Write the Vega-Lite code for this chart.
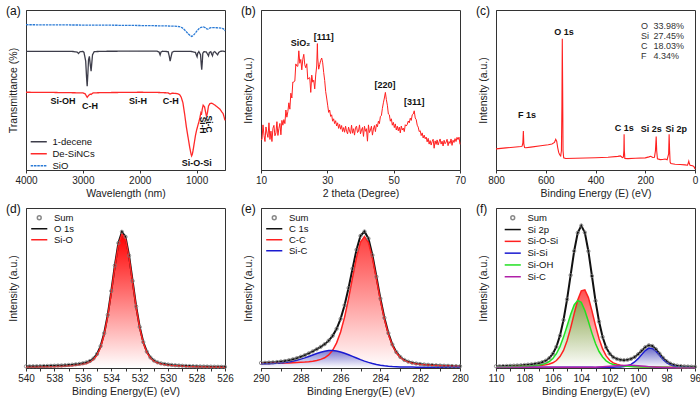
{
"$schema":"https://vega.github.io/schema/vega-lite/v6.json",
"padding":{"left":5,"top":4,"right":2,"bottom":0},
"columns":3,
"spacing":{"row":3,"column":6},
"resolve":{"scale":{"color":"independent","shape":"independent","strokeDash":"independent"}},
"config":{
 "font":"Liberation Sans",
 "view":{"stroke":"#333","strokeWidth":1},
 "axis":{"grid":false,"domainColor":"#333","tickColor":"#333","labelColor":"#222","titleColor":"#222","labelFontSize":10,"titleFontSize":10.5,"titleFontWeight":"normal","tickSize":3,"labelPadding":2,"labelFlush":false,"labelOverlap":false},
 "axisX":{"titlePadding":3},
 "axisY":{"labels":false,"ticks":false,"titlePadding":8},
 "title":{"fontSize":12,"fontWeight":"normal","anchor":"start","frame":"bounds","offset":-8,"dx":-2,"color":"#111"}
},
"datasets":{
"ftir":[
{"x":4000,"y":90.8,"s":"SiO"},{"x":3500,"y":90.7,"s":"SiO"},{"x":3000,"y":90.6,"s":"SiO"},{"x":2500,"y":90.5,"s":"SiO"},{"x":2000,"y":90.3,"s":"SiO"},{"x":1600,"y":90.1,"s":"SiO"},{"x":1400,"y":89.9,"s":"SiO"},{"x":1300,"y":89.6,"s":"SiO"},{"x":1250,"y":88.8,"s":"SiO"},{"x":1200,"y":87.2,"s":"SiO"},{"x":1150,"y":85.2,"s":"SiO"},{"x":1110,"y":83.9,"s":"SiO"},{"x":1085,"y":83.5,"s":"SiO"},{"x":1060,"y":84,"s":"SiO"},{"x":1030,"y":85.2,"s":"SiO"},{"x":1000,"y":86.6,"s":"SiO"},{"x":960,"y":88.3,"s":"SiO"},{"x":920,"y":89.2,"s":"SiO"},{"x":880,"y":89.4,"s":"SiO"},{"x":850,"y":89,"s":"SiO"},{"x":820,"y":88.2,"s":"SiO"},{"x":800,"y":88.1,"s":"SiO"},{"x":780,"y":88.5,"s":"SiO"},{"x":750,"y":89,"s":"SiO"},{"x":700,"y":89,"s":"SiO"},{"x":650,"y":88.9,"s":"SiO"},{"x":560,"y":88.7,"s":"SiO"},{"x":525,"y":88.2,"s":"SiO"},{"x":510,"y":87.5,"s":"SiO"},{"x":500,"y":86.9,"s":"SiO"},
{"x":4000,"y":74.2,"s":"1-decene"},{"x":3200,"y":74.2,"s":"1-decene"},{"x":3100,"y":73.7,"s":"1-decene"},{"x":3077,"y":72.8,"s":"1-decene"},{"x":3050,"y":73.9,"s":"1-decene"},{"x":3000,"y":74.1,"s":"1-decene"},{"x":2980,"y":73.5,"s":"1-decene"},{"x":2950,"y":68,"s":"1-decene"},{"x":2935,"y":58,"s":"1-decene"},{"x":2924,"y":52.3,"s":"1-decene"},{"x":2912,"y":60,"s":"1-decene"},{"x":2900,"y":69,"s":"1-decene"},{"x":2885,"y":71,"s":"1-decene"},{"x":2870,"y":66,"s":"1-decene"},{"x":2855,"y":61.7,"s":"1-decene"},{"x":2845,"y":66,"s":"1-decene"},{"x":2830,"y":72,"s":"1-decene"},{"x":2800,"y":74,"s":"1-decene"},{"x":2600,"y":74.2,"s":"1-decene"},{"x":2000,"y":74.3,"s":"1-decene"},{"x":1700,"y":74.3,"s":"1-decene"},{"x":1660,"y":73.8,"s":"1-decene"},{"x":1641,"y":71.9,"s":"1-decene"},{"x":1625,"y":73.8,"s":"1-decene"},{"x":1600,"y":74.2,"s":"1-decene"},{"x":1500,"y":74,"s":"1-decene"},{"x":1480,"y":71,"s":"1-decene"},{"x":1465,"y":68,"s":"1-decene"},{"x":1450,"y":70.5,"s":"1-decene"},{"x":1430,"y":73.6,"s":"1-decene"},{"x":1400,"y":74.1,"s":"1-decene"},{"x":1100,"y":74.1,"s":"1-decene"},{"x":1020,"y":73.5,"s":"1-decene"},{"x":1000,"y":71.5,"s":"1-decene"},{"x":991,"y":70.8,"s":"1-decene"},{"x":980,"y":73,"s":"1-decene"},{"x":960,"y":74,"s":"1-decene"},{"x":930,"y":72,"s":"1-decene"},{"x":918,"y":66,"s":"1-decene"},{"x":909,"y":62.7,"s":"1-decene"},{"x":900,"y":67,"s":"1-decene"},{"x":890,"y":73,"s":"1-decene"},{"x":870,"y":74,"s":"1-decene"},{"x":830,"y":73.8,"s":"1-decene"},{"x":800,"y":72,"s":"1-decene"},{"x":790,"y":71.3,"s":"1-decene"},{"x":775,"y":73.5,"s":"1-decene"},{"x":750,"y":74,"s":"1-decene"},{"x":735,"y":72.5,"s":"1-decene"},{"x":720,"y":71.4,"s":"1-decene"},{"x":705,"y":73.5,"s":"1-decene"},{"x":680,"y":74,"s":"1-decene"},{"x":650,"y":72.8,"s":"1-decene"},{"x":630,"y":72,"s":"1-decene"},{"x":610,"y":73.5,"s":"1-decene"},{"x":580,"y":74.2,"s":"1-decene"},{"x":540,"y":74.3,"s":"1-decene"},{"x":500,"y":74,"s":"1-decene"},
{"x":4000,"y":48.6,"s":"De-SiNCs"},{"x":3600,"y":48.5,"s":"De-SiNCs"},{"x":3200,"y":48.3,"s":"De-SiNCs"},{"x":3000,"y":48.2,"s":"De-SiNCs"},{"x":2960,"y":47.6,"s":"De-SiNCs"},{"x":2924,"y":45.4,"s":"De-SiNCs"},{"x":2900,"y":46.6,"s":"De-SiNCs"},{"x":2870,"y":47.5,"s":"De-SiNCs"},{"x":2855,"y":47.2,"s":"De-SiNCs"},{"x":2820,"y":48.2,"s":"De-SiNCs"},{"x":2600,"y":48.4,"s":"De-SiNCs"},{"x":2200,"y":48.5,"s":"De-SiNCs"},{"x":2000,"y":48.6,"s":"De-SiNCs"},{"x":1700,"y":48.5,"s":"De-SiNCs"},{"x":1500,"y":48.2,"s":"De-SiNCs"},{"x":1465,"y":47.5,"s":"De-SiNCs"},{"x":1430,"y":48,"s":"De-SiNCs"},{"x":1350,"y":47.8,"s":"De-SiNCs"},{"x":1300,"y":47.2,"s":"De-SiNCs"},{"x":1270,"y":45.5,"s":"De-SiNCs"},{"x":1240,"y":42,"s":"De-SiNCs"},{"x":1210,"y":35,"s":"De-SiNCs"},{"x":1180,"y":27,"s":"De-SiNCs"},{"x":1150,"y":20.5,"s":"De-SiNCs"},{"x":1120,"y":14,"s":"De-SiNCs"},{"x":1100,"y":10.5,"s":"De-SiNCs"},{"x":1088,"y":8.8,"s":"De-SiNCs"},{"x":1075,"y":9.8,"s":"De-SiNCs"},{"x":1060,"y":12.5,"s":"De-SiNCs"},{"x":1040,"y":17,"s":"De-SiNCs"},{"x":1020,"y":21.5,"s":"De-SiNCs"},{"x":1000,"y":24.8,"s":"De-SiNCs"},{"x":980,"y":27.5,"s":"De-SiNCs"},{"x":960,"y":30,"s":"De-SiNCs"},{"x":940,"y":33,"s":"De-SiNCs"},{"x":925,"y":35.5,"s":"De-SiNCs"},{"x":915,"y":34.5,"s":"De-SiNCs"},{"x":900,"y":38,"s":"De-SiNCs"},{"x":884,"y":40.5,"s":"De-SiNCs"},{"x":860,"y":39.5,"s":"De-SiNCs"},{"x":840,"y":36,"s":"De-SiNCs"},{"x":825,"y":33.5,"s":"De-SiNCs"},{"x":810,"y":35.5,"s":"De-SiNCs"},{"x":790,"y":40,"s":"De-SiNCs"},{"x":766,"y":41.5,"s":"De-SiNCs"},{"x":740,"y":41.8,"s":"De-SiNCs"},{"x":713,"y":41.4,"s":"De-SiNCs"},{"x":680,"y":40.6,"s":"De-SiNCs"},{"x":640,"y":39.5,"s":"De-SiNCs"},{"x":591,"y":38.1,"s":"De-SiNCs"},{"x":560,"y":36.5,"s":"De-SiNCs"},{"x":532,"y":35.2,"s":"De-SiNCs"},{"x":515,"y":33,"s":"De-SiNCs"},{"x":500,"y":31,"s":"De-SiNCs"}
],
"ftirLab":[{"x":3350,"y":43,"t":"Si-OH"},{"x":2875,"y":40,"t":"C-H"},{"x":2032,"y":43,"t":"Si-H"},{"x":1452,"y":43,"t":"C-H"},{"x":995,"y":4.4,"t":"Si-O-Si"}],
"ftirRot":[{"x":890,"y":28,"t":"Si-H"},{"x":784,"y":28.7,"t":"Si-C"}],
"xrd":[
{"x":10,"y":19},{"x":10.3,"y":19.1},{"x":10.6,"y":28.2},{"x":10.9,"y":21.7},{"x":11.2,"y":17.8},{"x":11.5,"y":26.9},{"x":11.8,"y":23},{"x":12.1,"y":20.4},{"x":12.4,"y":29.5},{"x":12.7,"y":19.1},{"x":13,"y":24.3},{"x":13.3,"y":17.8},{"x":13.6,"y":26.1},{"x":13.9,"y":27.9},{"x":14.2,"y":21.4},{"x":14.5,"y":23.2},{"x":14.8,"y":30.2},{"x":15.1,"y":21.6},{"x":15.4,"y":26},{"x":15.7,"y":29.1},{"x":16,"y":22},{"x":16.3,"y":31},{"x":16.6,"y":28},{"x":16.9,"y":31.5},{"x":17.2,"y":29},{"x":17.5,"y":37.5},{"x":17.8,"y":33},{"x":18.1,"y":36.5},{"x":18.4,"y":42},{"x":18.7,"y":38},{"x":19,"y":48},{"x":19.3,"y":45},{"x":19.6,"y":55},{"x":19.9,"y":55},{"x":20.2,"y":55.6},{"x":20.5,"y":66.3},{"x":20.8,"y":65},{"x":21.1,"y":64.8},{"x":21.4,"y":74.5},{"x":21.7,"y":66.7},{"x":22,"y":69.1},{"x":22.3,"y":62.6},{"x":22.6,"y":69.2},{"x":22.9,"y":72.3},{"x":23.2,"y":65.8},{"x":23.5,"y":63.9},{"x":23.8,"y":66.4},{"x":24.1,"y":56.7},{"x":24.4,"y":57.5},{"x":24.7,"y":57.7},{"x":25,"y":48.5},{"x":25.3,"y":59.3},{"x":25.6,"y":54.9},{"x":25.9,"y":56.1},{"x":26.2,"y":50.7},{"x":26.5,"y":59.4},{"x":26.8,"y":65},{"x":27,"y":79},{"x":27.1,"y":70},{"x":27.4,"y":63},{"x":27.7,"y":66},{"x":28,"y":68.5},{"x":28.3,"y":70},{"x":28.6,"y":67},{"x":28.9,"y":61},{"x":29.2,"y":56},{"x":29.5,"y":49},{"x":29.8,"y":45},{"x":30.1,"y":40.5},{"x":30.4,"y":36},{"x":30.7,"y":37.5},{"x":31,"y":33.5},{"x":31.3,"y":34.5},{"x":31.6,"y":30.5},{"x":31.9,"y":32},{"x":32.2,"y":29},{"x":32.5,"y":30.8},{"x":32.8,"y":27.5},{"x":33.1,"y":29.5},{"x":33.4,"y":26},{"x":33.7,"y":28.5},{"x":34,"y":25.5},{"x":34.3,"y":27.8},{"x":34.6,"y":24},{"x":34.9,"y":26.5},{"x":35.2,"y":23.6},{"x":35.5,"y":27.4},{"x":35.8,"y":24.2},{"x":36.1,"y":22.6},{"x":36.4,"y":26.8},{"x":36.7,"y":24.4},{"x":37,"y":22.8},{"x":37.3,"y":28},{"x":37.6,"y":23},{"x":37.9,"y":25.8},{"x":38.2,"y":21.8},{"x":38.5,"y":26.6},{"x":38.8,"y":27.4},{"x":39.1,"y":23.4},{"x":39.4,"y":24.2},{"x":39.7,"y":28.2},{"x":40,"y":22.6},{"x":40.3,"y":25},{"x":40.6,"y":26.6},{"x":40.9,"y":21},{"x":41.2,"y":27.4},{"x":41.5,"y":24.2},{"x":41.8,"y":25.8},{"x":42.1,"y":18},{"x":42.4,"y":28.2},{"x":42.7,"y":23.4},{"x":43,"y":25},{"x":43.3,"y":27.4},{"x":43.6,"y":21.8},{"x":43.9,"y":25.6},{"x":44.2,"y":27.8},{"x":44.5,"y":24},{"x":44.8,"y":28.5},{"x":45.1,"y":27},{"x":45.4,"y":30.5},{"x":45.7,"y":29},{"x":46,"y":33.5},{"x":46.3,"y":34},{"x":46.6,"y":38.5},{"x":46.9,"y":42},{"x":47.2,"y":45},{"x":47.5,"y":48.5},{"x":47.8,"y":44},{"x":48.1,"y":40.5},{"x":48.4,"y":35},{"x":48.7,"y":34.5},{"x":49,"y":30.5},{"x":49.3,"y":32},{"x":49.6,"y":28},{"x":49.9,"y":29.8},{"x":50.2,"y":26.5},{"x":50.5,"y":28.8},{"x":50.8,"y":25},{"x":51.1,"y":27.4},{"x":51.4,"y":24.5},{"x":51.7,"y":26.8},{"x":52,"y":23.2},{"x":52.3,"y":27.5},{"x":52.6,"y":25},{"x":52.9,"y":26.2},{"x":53.2,"y":24},{"x":53.5,"y":28.3},{"x":53.8,"y":27.5},{"x":54.1,"y":28.5},{"x":54.4,"y":30.6},{"x":54.7,"y":29.5},{"x":55,"y":32.4},{"x":55.3,"y":31},{"x":55.6,"y":34.5},{"x":55.9,"y":35},{"x":56.2,"y":37},{"x":56.5,"y":32.5},{"x":56.8,"y":31.5},{"x":57.1,"y":28},{"x":57.4,"y":26.8},{"x":57.7,"y":24},{"x":58,"y":24.6},{"x":58.3,"y":21.5},{"x":58.6,"y":23.2},{"x":58.9,"y":20},{"x":59.2,"y":21.8},{"x":59.5,"y":19.5},{"x":59.8,"y":20.6},{"x":60.1,"y":17.6},{"x":60.4,"y":19.8},{"x":60.7,"y":16.2},{"x":61,"y":18.4},{"x":61.3,"y":15.6},{"x":61.6,"y":17.8},{"x":61.9,"y":19.2},{"x":62.2,"y":13.6},{"x":62.5,"y":18.2},{"x":62.8,"y":16},{"x":63.1,"y":18.8},{"x":63.4,"y":15.6},{"x":63.7,"y":17.6},{"x":64,"y":19.4},{"x":64.3,"y":16.2},{"x":64.6,"y":18},{"x":64.9,"y":15},{"x":65.2,"y":18.6},{"x":65.5,"y":16.4},{"x":65.8,"y":17.4},{"x":66.1,"y":19.2},{"x":66.4,"y":15.2},{"x":66.7,"y":17.8},{"x":67,"y":16.6},{"x":67.3,"y":19.4},{"x":67.6,"y":15.4},{"x":67.9,"y":18.6},{"x":68.2,"y":17.2},{"x":68.5,"y":19.6},{"x":68.8,"y":17.8},{"x":69.1,"y":20.4},{"x":69.4,"y":19},{"x":69.7,"y":20.5},{"x":70,"y":16}
],
"xrdLab":[{"x":21.9,"y":79.4,"t":"SiO₂"},{"x":28.9,"y":83.3,"t":"[111]"},{"x":47.4,"y":53.1,"t":"[220]"},{"x":56.2,"y":42.6,"t":"[311]"}],
"xps":[
{"x":800,"y":13.2},{"x":760,"y":13.8},{"x":720,"y":14.4},{"x":700,"y":14.7},{"x":695,"y":14.9},{"x":692,"y":17},{"x":690,"y":24.4},{"x":688,"y":16},{"x":685,"y":14},{"x":680,"y":13.9},{"x":660,"y":14.3},{"x":620,"y":15.2},{"x":590,"y":15.8},{"x":575,"y":16.3},{"x":565,"y":17.2},{"x":560,"y":19.2},{"x":556,"y":18},{"x":552,"y":14},{"x":548,"y":11},{"x":544,"y":9.5},{"x":540,"y":8.8},{"x":537,"y":12},{"x":535,"y":40},{"x":533.5,"y":82},{"x":532,"y":50},{"x":530.5,"y":12},{"x":528,"y":7.6},{"x":520,"y":7.2},{"x":480,"y":7.3},{"x":440,"y":7.5},{"x":400,"y":7.7},{"x":350,"y":8},{"x":310,"y":8.5},{"x":300,"y":8.8},{"x":292,"y":7.8},{"x":288,"y":8},{"x":286,"y":12},{"x":285,"y":22.4},{"x":284,"y":12},{"x":282,"y":7.2},{"x":270,"y":7.1},{"x":240,"y":7.3},{"x":200,"y":7.6},{"x":185,"y":8.2},{"x":178,"y":8.6},{"x":170,"y":7.8},{"x":163,"y":8},{"x":159,"y":12},{"x":156,"y":20.9},{"x":154,"y":12},{"x":151,"y":7},{"x":140,"y":6.5},{"x":130,"y":6.6},{"x":120,"y":6.9},{"x":112,"y":6.4},{"x":106,"y":10},{"x":104,"y":22.4},{"x":102,"y":12},{"x":100,"y":5},{"x":97,"y":4},{"x":80,"y":3.6},{"x":60,"y":3.4},{"x":40,"y":3.2},{"x":30,"y":3},{"x":27,"y":4.5},{"x":25,"y":5.5},{"x":23,"y":4.2},{"x":20,"y":3},{"x":10,"y":2.6},{"x":5,"y":2.2},{"x":2,"y":1.5},{"x":0,"y":0.5}
],
"xpsLab":[{"x":527,"y":86,"t":"O 1s"},{"x":675,"y":34.6,"t":"F 1s"},{"x":284,"y":26.3,"t":"C 1s"},{"x":176,"y":25.6,"t":"Si 2s"},{"x":75,"y":25.6,"t":"Si 2p"}],
"xpsComp":[{"x":217,"y":90,"t":"O"},{"x":217,"y":84,"t":"Si"},{"x":217,"y":77.7,"t":"C"},{"x":217,"y":71.5,"t":"F"},{"x":167,"y":90,"t":"33.98%"},{"x":167,"y":84,"t":"27.45%"},{"x":167,"y":77.7,"t":"18.03%"},{"x":167,"y":71.5,"t":"4.34%"}],
"o1s":[
{"E":540,"r":0.42,"k":1.02},{"E":539.75,"r":0.45,"k":1.05},{"E":539.5,"r":0.48,"k":1.08},{"E":539.25,"r":0.52,"k":1.12},{"E":539,"r":0.57,"k":1.17},{"E":538.75,"r":0.62,"k":1.22},{"E":538.5,"r":0.68,"k":1.28},{"E":538.25,"r":0.74,"k":1.35},{"E":538,"r":0.82,"k":1.43},{"E":537.75,"r":0.91,"k":1.52},{"E":537.5,"r":1.01,"k":1.62},{"E":537.25,"r":1.13,"k":1.74},{"E":537,"r":1.28,"k":1.89},{"E":536.75,"r":1.46,"k":2.07},{"E":536.5,"r":1.68,"k":2.3},{"E":536.25,"r":1.95,"k":2.57},{"E":536,"r":2.33,"k":2.95},{"E":535.75,"r":2.86,"k":3.49},{"E":535.5,"r":3.75,"k":4.39},{"E":535.25,"r":5.28,"k":5.93},{"E":535,"r":8.1,"k":8.78},{"E":534.75,"r":13,"k":13.7},{"E":534.5,"r":20.9,"k":21.7},{"E":534.25,"r":32.3,"k":33.2},{"E":534,"r":47,"k":48.1},{"E":533.75,"r":63,"k":64.1},{"E":533.5,"r":76.8,"k":78.1},{"E":533.25,"r":83.8,"k":85.1},{"E":533,"r":80.7,"k":82},{"E":532.75,"r":69.1,"k":70.3},{"E":532.5,"r":53.4,"k":54.4},{"E":532.25,"r":37.8,"k":38.5},{"E":532,"r":25,"k":25.6},{"E":531.75,"r":15.7,"k":16.2},{"E":531.5,"r":9.75,"k":10.2},{"E":531.25,"r":6.2,"k":6.6},{"E":531,"r":4.25,"k":4.65},{"E":530.75,"r":3.15,"k":3.53},{"E":530.5,"r":2.5,"k":2.87},{"E":530.25,"r":2.09,"k":2.45},{"E":530,"r":1.78,"k":2.13},{"E":529.75,"r":1.54,"k":1.89},{"E":529.5,"r":1.35,"k":1.7},{"E":529.25,"r":1.19,"k":1.54},{"E":529,"r":1.06,"k":1.4},{"E":528.75,"r":0.95,"k":1.29},{"E":528.5,"r":0.85,"k":1.19},{"E":528.25,"r":0.77,"k":1.11},{"E":528,"r":0.7,"k":1.04},{"E":527.75,"r":0.64,"k":0.98},{"E":527.5,"r":0.59,"k":0.93},{"E":527.25,"r":0.54,"k":0.88},{"E":527,"r":0.5,"k":0.84},{"E":526.75,"r":0.46,"k":0.8},{"E":526.5,"r":0.43,"k":0.77},{"E":526.25,"r":0.4,"k":0.74},{"E":526,"r":0.37,"k":0.71}
],
"c1s":[
{"E":290,"r":2.8,"b":2.56,"k":3.15},{"E":289.8,"r":2.84,"b":2.61,"k":3.25},{"E":289.6,"r":2.87,"b":2.68,"k":3.37},{"E":289.4,"r":2.92,"b":2.79,"k":3.54},{"E":289.2,"r":2.97,"b":2.93,"k":3.75},{"E":289,"r":3.04,"b":3.14,"k":4.04},{"E":288.8,"r":3.1,"b":3.4,"k":4.38},{"E":288.6,"r":3.18,"b":3.78,"k":4.86},{"E":288.4,"r":3.29,"b":4.25,"k":5.45},{"E":288.2,"r":3.42,"b":4.83,"k":6.17},{"E":288,"r":3.56,"b":5.54,"k":7.04},{"E":287.8,"r":3.74,"b":6.33,"k":8.02},{"E":287.6,"r":3.98,"b":7.22,"k":9.16},{"E":287.4,"r":4.28,"b":8.15,"k":10.4},{"E":287.2,"r":4.7,"b":9.04,"k":11.72},{"E":287,"r":5.37,"b":9.86,"k":13.22},{"E":286.8,"r":6.41,"b":10.5,"k":14.9},{"E":286.6,"r":8.18,"b":10.89,"k":17.1},{"E":286.4,"r":11.1,"b":10.95,"k":20.1},{"E":286.2,"r":15.7,"b":10.67,"k":24.5},{"E":286,"r":22.5,"b":10.05,"k":30.7},{"E":285.8,"r":31.8,"b":9.24,"k":39.2},{"E":285.6,"r":43.4,"b":8.27,"k":50},{"E":285.4,"r":56.5,"b":7.23,"k":62.1},{"E":285.2,"r":69.2,"b":6.23,"k":73.9},{"E":285,"r":78.7,"b":5.22,"k":82.6},{"E":284.8,"r":82.2,"b":4.29,"k":85.3},{"E":284.6,"r":78.4,"b":3.51,"k":80.9},{"E":284.4,"r":68.6,"b":2.79,"k":70.5},{"E":284.2,"r":55.65,"b":2.23,"k":57.1},{"E":284,"r":42.3,"b":1.73,"k":43.4},{"E":283.8,"r":30.5,"b":1.39,"k":31.4},{"E":283.6,"r":21.1,"b":1.11,"k":21.8},{"E":283.4,"r":14.2,"b":0.92,"k":14.7},{"E":283.2,"r":9.48,"b":0.79,"k":9.94},{"E":283,"r":6.5,"b":0.69,"k":6.89},{"E":282.8,"r":4.71,"b":0.63,"k":5.04},{"E":282.6,"r":3.66,"b":0.59,"k":3.95},{"E":282.4,"r":2.98,"b":0.56,"k":3.24},{"E":282.2,"r":2.55,"b":0.54,"k":2.79},{"E":282,"r":2.24,"b":0.52,"k":2.46},{"E":281.8,"r":1.99,"b":0.5,"k":2.19},{"E":281.6,"r":1.8,"b":0.49,"k":1.99},{"E":281.4,"r":1.64,"b":0.47,"k":1.81},{"E":281.2,"r":1.5,"b":0.46,"k":1.66},{"E":281,"r":1.38,"b":0.45,"k":1.53},{"E":280.8,"r":1.28,"b":0.44,"k":1.42},{"E":280.6,"r":1.2,"b":0.43,"k":1.33},{"E":280.4,"r":1.12,"b":0.42,"k":1.24},{"E":280.2,"r":1.05,"b":0.41,"k":1.16},{"E":280,"r":0.99,"b":0.4,"k":1.09}
],
"si2p":[
{"E":110,"r":0.71,"g":0.74,"b":0.42,"p":0.41,"k":1.08},{"E":109.75,"r":0.73,"g":0.77,"b":0.42,"p":0.41,"k":1.13},{"E":109.5,"r":0.76,"g":0.81,"b":0.42,"p":0.41,"k":1.2},{"E":109.25,"r":0.8,"g":0.85,"b":0.42,"p":0.41,"k":1.28},{"E":109,"r":0.84,"g":0.89,"b":0.42,"p":0.41,"k":1.36},{"E":108.75,"r":0.88,"g":0.95,"b":0.43,"p":0.42,"k":1.46},{"E":108.5,"r":0.93,"g":1.01,"b":0.43,"p":0.42,"k":1.57},{"E":108.25,"r":0.99,"g":1.08,"b":0.43,"p":0.42,"k":1.7},{"E":108,"r":1.06,"g":1.17,"b":0.43,"p":0.42,"k":1.88},{"E":107.75,"r":1.14,"g":1.28,"b":0.44,"p":0.42,"k":2.08},{"E":107.5,"r":1.24,"g":1.41,"b":0.44,"p":0.42,"k":2.3},{"E":107.25,"r":1.36,"g":1.58,"b":0.44,"p":0.43,"k":2.6},{"E":107,"r":1.52,"g":1.84,"b":0.45,"p":0.43,"k":3},{"E":106.75,"r":1.71,"g":2.24,"b":0.45,"p":0.43,"k":3.6},{"E":106.5,"r":2.01,"g":2.9,"b":0.45,"p":0.43,"k":4.56},{"E":106.25,"r":2.45,"g":4.06,"b":0.45,"p":0.43,"k":6.2},{"E":106,"r":3.24,"g":5.94,"b":0.45,"p":0.43,"k":8.9},{"E":105.75,"r":4.66,"g":8.93,"b":0.46,"p":0.44,"k":13.3},{"E":105.5,"r":7.16,"g":13.38,"b":0.46,"p":0.44,"k":20.2},{"E":105.25,"r":11,"g":19.3,"b":0.46,"p":0.44,"k":30},{"E":105,"r":17,"g":26.2,"b":0.47,"p":0.44,"k":42.9},{"E":104.75,"r":24.9,"g":33.4,"b":0.47,"p":0.45,"k":58},{"E":104.5,"r":34,"g":39.4,"b":0.48,"p":0.45,"k":73.1},{"E":104.25,"r":42.45,"g":42.25,"b":0.43,"p":0.41,"k":84.5},{"E":104,"r":48.2,"g":41,"b":0.43,"p":0.4,"k":89},{"E":103.75,"r":48.8,"g":36,"b":0.42,"p":0.4,"k":84.7},{"E":103.5,"r":44,"g":29.1,"b":0.41,"p":0.42,"k":73},{"E":103.25,"r":35.7,"g":21.8,"b":0.4,"p":0.42,"k":57.5},{"E":103,"r":26.5,"g":15.3,"b":0.39,"p":0.45,"k":42},{"E":102.75,"r":18.3,"g":10.3,"b":0.4,"p":0.66,"k":29},{"E":102.5,"r":11.9,"g":6.88,"b":0.4,"p":0.78,"k":19.4},{"E":102.25,"r":7.53,"g":4.46,"b":0.42,"p":0.94,"k":12.8},{"E":102,"r":4.82,"g":3.02,"b":0.44,"p":1.12,"k":8.9},{"E":101.75,"r":3.18,"g":2.16,"b":0.48,"p":1.3,"k":6.7},{"E":101.5,"r":2.32,"g":1.7,"b":0.55,"p":1.48,"k":5.7},{"E":101.25,"r":1.77,"g":1.4,"b":0.65,"p":1.61,"k":5.1},{"E":101,"r":1.46,"g":1.19,"b":0.93,"p":1.59,"k":4.9},{"E":100.75,"r":1.26,"g":1.02,"b":1.4,"p":1.68,"k":5.1},{"E":100.5,"r":1.1,"g":0.91,"b":2.29,"p":1.69,"k":5.7},{"E":100.25,"r":0.96,"g":0.82,"b":3.75,"p":1.61,"k":6.8},{"E":100,"r":0.85,"g":0.73,"b":5.85,"p":1.46,"k":8.6},{"E":99.75,"r":0.78,"g":0.67,"b":8.4,"p":1.27,"k":10.8},{"E":99.5,"r":0.7,"g":0.61,"b":10.9,"p":1.06,"k":13},{"E":99.25,"r":0.64,"g":0.56,"b":12.45,"p":0.86,"k":14.2},{"E":99,"r":0.59,"g":0.52,"b":12.26,"p":0.68,"k":13.75},{"E":98.75,"r":0.55,"g":0.48,"b":10.46,"p":0.54,"k":11.7},{"E":98.5,"r":0.51,"g":0.45,"b":7.9,"p":0.42,"k":8.98},{"E":98.25,"r":0.48,"g":0.43,"b":5.4,"p":0.33,"k":6.34},{"E":98,"r":0.45,"g":0.4,"b":3.4,"p":0.27,"k":4.22},{"E":97.75,"r":0.43,"g":0.38,"b":2.07,"p":0.22,"k":2.8},{"E":97.5,"r":0.4,"g":0.36,"b":1.29,"p":0.19,"k":1.94},{"E":97.25,"r":0.38,"g":0.35,"b":0.84,"p":0.17,"k":1.44},{"E":97,"r":0.37,"g":0.33,"b":0.63,"p":0.16,"k":1.19},{"E":96.75,"r":0.35,"g":0.32,"b":0.49,"p":0.15,"k":1.01},{"E":96.5,"r":0.34,"g":0.3,"b":0.43,"p":0.15,"k":0.92},{"E":96.25,"r":0.32,"g":0.29,"b":0.37,"p":0.14,"k":0.82},{"E":96,"r":0.31,"g":0.28,"b":0.33,"p":0.14,"k":0.76}
]
},
"concat":[
{
 "width":199,"height":160,
 "title":{"text":"(a)"},
 "layer":[
  {"data":{"name":"ftir"},"mark":{"type":"line","strokeWidth":1.3},
   "encoding":{
    "x":{"field":"x","type":"quantitative","scale":{"domain":[4000,500],"nice":false,"zero":false},"axis":{"values":[4000,3500,3000,2500,2000,1500,1000,500],"format":"d","labelExpr":"datum.value % 1000 === 0 ? datum.label : ''","title":"Wavelength (nm)"}},
    "y":{"field":"y","type":"quantitative","scale":{"domain":[0,100]},"axis":{"title":"Transmittance (%)"}},
    "color":{"field":"s","type":"nominal","scale":{"domain":["1-decene","De-SiNCs","SiO"],"range":["#3d3d4a","#ff2a2a","#2b7bd6"]},"legend":{"orient":"none","legendX":8,"legendY":127,"title":null,"symbolType":"M-2.3,0H2.3","symbolSize":49,"symbolStrokeWidth":1.5,"labelFontSize":9.5,"labelOffset":9,"rowPadding":1,"padding":0,"labelColor":"#111"}},
    "strokeDash":{"field":"s","type":"nominal","scale":{"domain":["1-decene","De-SiNCs","SiO"],"range":[[1,0],[1,0],[2.5,0.8]]},"legend":{"orient":"none","legendX":8,"legendY":127,"title":null,"symbolType":"M-2.3,0H2.3","symbolSize":49,"symbolStrokeWidth":1.5,"labelFontSize":9.5,"labelOffset":9,"rowPadding":1,"padding":0,"labelColor":"#111"}}
   }},
  {"data":{"name":"ftirLab"},"mark":{"type":"text","fontWeight":"bold","fontSize":9,"color":"#111"},
   "encoding":{"x":{"field":"x","type":"quantitative"},"y":{"field":"y","type":"quantitative"},"text":{"field":"t"}}},
  {"data":{"name":"ftirRot"},"mark":{"type":"text","fontWeight":"bold","fontSize":8.5,"color":"#111","angle":90},
   "encoding":{"x":{"field":"x","type":"quantitative"},"y":{"field":"y","type":"quantitative"},"text":{"field":"t"}}}
 ]
},
{
 "width":199,"height":160,
 "title":{"text":"(b)"},
 "layer":[
  {"data":{"name":"xrd"},"mark":{"type":"line","strokeWidth":1,"color":"#ff2020"},
   "encoding":{
    "x":{"field":"x","type":"quantitative","scale":{"domain":[10,70],"nice":false,"zero":false},"axis":{"values":[10,15,20,25,30,35,40,45,50,55,60,65,70],"labelExpr":"datum.value % 10 === 0 ? datum.label : ''","title":"2 theta (Degree)"}},
    "y":{"field":"y","type":"quantitative","scale":{"domain":[0,100]},"axis":{"title":"Intensity (a.u.)"}}
   }},
  {"data":{"name":"xrdLab"},"mark":{"type":"text","fontWeight":"bold","fontSize":9,"color":"#111"},
   "encoding":{"x":{"field":"x","type":"quantitative"},"y":{"field":"y","type":"quantitative"},"text":{"field":"t"}}}
 ]
},
{
 "width":199,"height":160,
 "title":{"text":"(c)"},
 "layer":[
  {"data":{"name":"xps"},"mark":{"type":"line","strokeWidth":1.1,"color":"#ff2020"},
   "encoding":{
    "x":{"field":"x","type":"quantitative","scale":{"domain":[800,0],"nice":false,"zero":false},"axis":{"values":[800,700,600,500,400,300,200,100,0],"labelExpr":"datum.value % 200 === 0 ? datum.label : ''","title":"Binding Energy (E) (eV)"}},
    "y":{"field":"y","type":"quantitative","scale":{"domain":[0,100]},"axis":{"title":"Intensity (a.u.)"}}
   }},
  {"data":{"name":"xpsLab"},"mark":{"type":"text","fontWeight":"bold","fontSize":9,"color":"#111"},
   "encoding":{"x":{"field":"x","type":"quantitative"},"y":{"field":"y","type":"quantitative"},"text":{"field":"t"}}},
  {"data":{"name":"xpsComp"},"mark":{"type":"text","fontSize":9,"color":"#333","align":"left"},
   "encoding":{"x":{"field":"x","type":"quantitative"},"y":{"field":"y","type":"quantitative"},"text":{"field":"t"}}}
 ]
},
{
 "width":199,"height":160,
 "title":{"text":"(d)"},
 "data":{"name":"o1s"},
 "encoding":{"x":{"field":"E","type":"quantitative","scale":{"domain":[540,526],"nice":false,"zero":false},"axis":{"values":[540,539,538,537,536,535,534,533,532,531,530,529,528,527,526],"labelExpr":"datum.value % 2 === 0 ? datum.label : ''","title":"Binding Energy(E) (eV)"}}},
 "layer":[
  {"mark":{"type":"area","color":{"gradient":"linear","x1":0,"y1":0,"x2":0,"y2":1,"stops":[{"offset":0,"color":"#ff0000"},{"offset":1,"color":"#ffffff"}]}},
   "encoding":{"y":{"field":"r","type":"quantitative","scale":{"domain":[0,100]},"title":"Intensity (a.u.)"}}},
  {"mark":{"type":"line","color":"#111111","strokeWidth":2},"encoding":{"y":{"field":"k","type":"quantitative","title":"Intensity (a.u.)"}}},
  {"mark":{"type":"line","color":"#ff2020","strokeWidth":1.5},"encoding":{"y":{"field":"r","type":"quantitative","title":"Intensity (a.u.)"}}},
  {"mark":{"type":"point","shape":"circle","filled":false,"size":11,"color":"#777777","strokeWidth":0.8,"opacity":1},"encoding":{"y":{"field":"k","type":"quantitative","title":"Intensity (a.u.)"}}},
  {"transform":[{"filter":"false"}],"mark":{"type":"point","filled":false,"opacity":1},
   "encoding":{"y":{"field":"k","type":"quantitative","title":"Intensity (a.u.)"},
    "color":{"field":"s","type":"nominal","scale":{"domain":["Sum","O 1s","Si-O"],"range":["#888888","#111111","#ff2020"]},"legend":{"orient":"none","legendX":8.5,"legendY":5,"title":null,"symbolSize":49,"symbolStrokeWidth":1.5,"labelFontSize":9.5,"labelOffset":10,"rowPadding":0,"padding":0,"labelColor":"#111"}},
    "shape":{"field":"s","type":"nominal","scale":{"domain":["Sum","O 1s","Si-O"],"range":["M-0.55,0A0.55,0.55,0,1,1,0.55,0A0.55,0.55,0,1,1,-0.55,0Z","M-2.3,0H2.3","M-2.3,0H2.3"]},"legend":{"orient":"none","legendX":8.5,"legendY":5,"title":null,"symbolSize":49,"symbolStrokeWidth":1.5,"labelFontSize":9.5,"labelOffset":10,"rowPadding":0,"padding":0,"labelColor":"#111"}}}}
 ]
},
{
 "width":199,"height":160,
 "title":{"text":"(e)"},
 "data":{"name":"c1s"},
 "encoding":{"x":{"field":"E","type":"quantitative","scale":{"domain":[290,280],"nice":false,"zero":false},"axis":{"values":[290,289,288,287,286,285,284,283,282,281,280],"labelExpr":"datum.value % 2 === 0 ? datum.label : ''","title":"Binding Energy(E) (eV)"}}},
 "layer":[
  {"mark":{"type":"area","opacity":0.9,"color":{"gradient":"linear","x1":0,"y1":0,"x2":0,"y2":1,"stops":[{"offset":0,"color":"#ff2a2a"},{"offset":1,"color":"#ffffff"}]}},
   "encoding":{"y":{"field":"r","type":"quantitative","scale":{"domain":[0,100]},"title":"Intensity (a.u.)"}}},
  {"mark":{"type":"area","opacity":0.8,"color":{"gradient":"linear","x1":0,"y1":0,"x2":0,"y2":1,"stops":[{"offset":0,"color":"#5a5ac8"},{"offset":1,"color":"#ffffff"}]}},
   "encoding":{"y":{"field":"b","type":"quantitative","title":"Intensity (a.u.)"}}},
  {"mark":{"type":"line","color":"#111111","strokeWidth":2},"encoding":{"y":{"field":"k","type":"quantitative","title":"Intensity (a.u.)"}}},
  {"mark":{"type":"line","color":"#ff2020","strokeWidth":1.5},"encoding":{"y":{"field":"r","type":"quantitative","title":"Intensity (a.u.)"}}},
  {"mark":{"type":"line","color":"#1a1ad0","strokeWidth":1.5},"encoding":{"y":{"field":"b","type":"quantitative","title":"Intensity (a.u.)"}}},
  {"mark":{"type":"point","shape":"circle","filled":false,"size":11,"color":"#777777","strokeWidth":0.8,"opacity":1},"encoding":{"y":{"field":"k","type":"quantitative","title":"Intensity (a.u.)"}}},
  {"transform":[{"filter":"false"}],"mark":{"type":"point","filled":false,"opacity":1},
   "encoding":{"y":{"field":"k","type":"quantitative","title":"Intensity (a.u.)"},
    "color":{"field":"s","type":"nominal","scale":{"domain":["Sum","C 1s","C-C","Si-C"],"range":["#888888","#111111","#ff2020","#1a1ad0"]},"legend":{"orient":"none","legendX":8.5,"legendY":5,"title":null,"symbolSize":49,"symbolStrokeWidth":1.5,"labelFontSize":9.5,"labelOffset":10,"rowPadding":0,"padding":0,"labelColor":"#111"}},
    "shape":{"field":"s","type":"nominal","scale":{"domain":["Sum","C 1s","C-C","Si-C"],"range":["M-0.55,0A0.55,0.55,0,1,1,0.55,0A0.55,0.55,0,1,1,-0.55,0Z","M-2.3,0H2.3","M-2.3,0H2.3","M-2.3,0H2.3"]},"legend":{"orient":"none","legendX":8.5,"legendY":5,"title":null,"symbolSize":49,"symbolStrokeWidth":1.5,"labelFontSize":9.5,"labelOffset":10,"rowPadding":0,"padding":0,"labelColor":"#111"}}}}
 ]
},
{
 "width":199,"height":160,
 "title":{"text":"(f)"},
 "data":{"name":"si2p"},
 "encoding":{"x":{"field":"E","type":"quantitative","scale":{"domain":[110,96],"nice":false,"zero":false},"axis":{"values":[110,109,108,107,106,105,104,103,102,101,100,99,98,97,96],"labelExpr":"datum.value % 2 === 0 ? datum.label : ''","title":"Binding Energy(E) (eV)"}}},
 "layer":[
  {"mark":{"type":"area","opacity":0.85,"color":{"gradient":"linear","x1":0,"y1":0,"x2":0,"y2":1,"stops":[{"offset":0,"color":"#ff3030"},{"offset":1,"color":"#ffffff"}]}},
   "encoding":{"y":{"field":"r","type":"quantitative","scale":{"domain":[0,100]},"title":"Intensity (a.u.)"}}},
  {"mark":{"type":"area","opacity":0.6,"color":{"gradient":"linear","x1":0,"y1":0,"x2":0,"y2":1,"stops":[{"offset":0,"color":"#3ccf3c"},{"offset":1,"color":"#ffffff"}]}},
   "encoding":{"y":{"field":"g","type":"quantitative","title":"Intensity (a.u.)"}}},
  {"mark":{"type":"area","opacity":0.75,"color":{"gradient":"linear","x1":0,"y1":0,"x2":0,"y2":1,"stops":[{"offset":0,"color":"#3a3ab8"},{"offset":1,"color":"#ffffff"}]}},
   "encoding":{"y":{"field":"b","type":"quantitative","title":"Intensity (a.u.)"}}},
  {"mark":{"type":"line","color":"#111111","strokeWidth":2},"encoding":{"y":{"field":"k","type":"quantitative","title":"Intensity (a.u.)"}}},
  {"mark":{"type":"line","color":"#ff2020","strokeWidth":1.5},"encoding":{"y":{"field":"r","type":"quantitative","title":"Intensity (a.u.)"}}},
  {"mark":{"type":"line","color":"#1a1ad0","strokeWidth":1.5},"encoding":{"y":{"field":"b","type":"quantitative","title":"Intensity (a.u.)"}}},
  {"mark":{"type":"line","color":"#22e022","strokeWidth":1.5},"encoding":{"y":{"field":"g","type":"quantitative","title":"Intensity (a.u.)"}}},
  {"mark":{"type":"line","color":"#b020a8","strokeWidth":1.5},"encoding":{"y":{"field":"p","type":"quantitative","title":"Intensity (a.u.)"}}},
  {"mark":{"type":"point","shape":"circle","filled":false,"size":11,"color":"#777777","strokeWidth":0.8,"opacity":1},"encoding":{"y":{"field":"k","type":"quantitative","title":"Intensity (a.u.)"}}},
  {"transform":[{"filter":"false"}],"mark":{"type":"point","filled":false,"opacity":1},
   "encoding":{"y":{"field":"k","type":"quantitative","title":"Intensity (a.u.)"},
    "color":{"field":"s","type":"nominal","scale":{"domain":["Sum","Si 2p","Si-O-Si","Si-Si","Si-OH","Si-C"],"range":["#888888","#111111","#ff2020","#1a1ad0","#22e022","#b020a8"]},"legend":{"orient":"none","legendX":12,"legendY":5,"title":null,"symbolSize":49,"symbolStrokeWidth":1.5,"labelFontSize":9.5,"labelOffset":10,"rowPadding":0.8,"padding":0,"labelColor":"#111"}},
    "shape":{"field":"s","type":"nominal","scale":{"domain":["Sum","Si 2p","Si-O-Si","Si-Si","Si-OH","Si-C"],"range":["M-0.55,0A0.55,0.55,0,1,1,0.55,0A0.55,0.55,0,1,1,-0.55,0Z","M-2.3,0H2.3","M-2.3,0H2.3","M-2.3,0H2.3","M-2.3,0H2.3","M-2.3,0H2.3"]},"legend":{"orient":"none","legendX":12,"legendY":5,"title":null,"symbolSize":49,"symbolStrokeWidth":1.5,"labelFontSize":9.5,"labelOffset":10,"rowPadding":0.8,"padding":0,"labelColor":"#111"}}}}
 ]
}
]
}
